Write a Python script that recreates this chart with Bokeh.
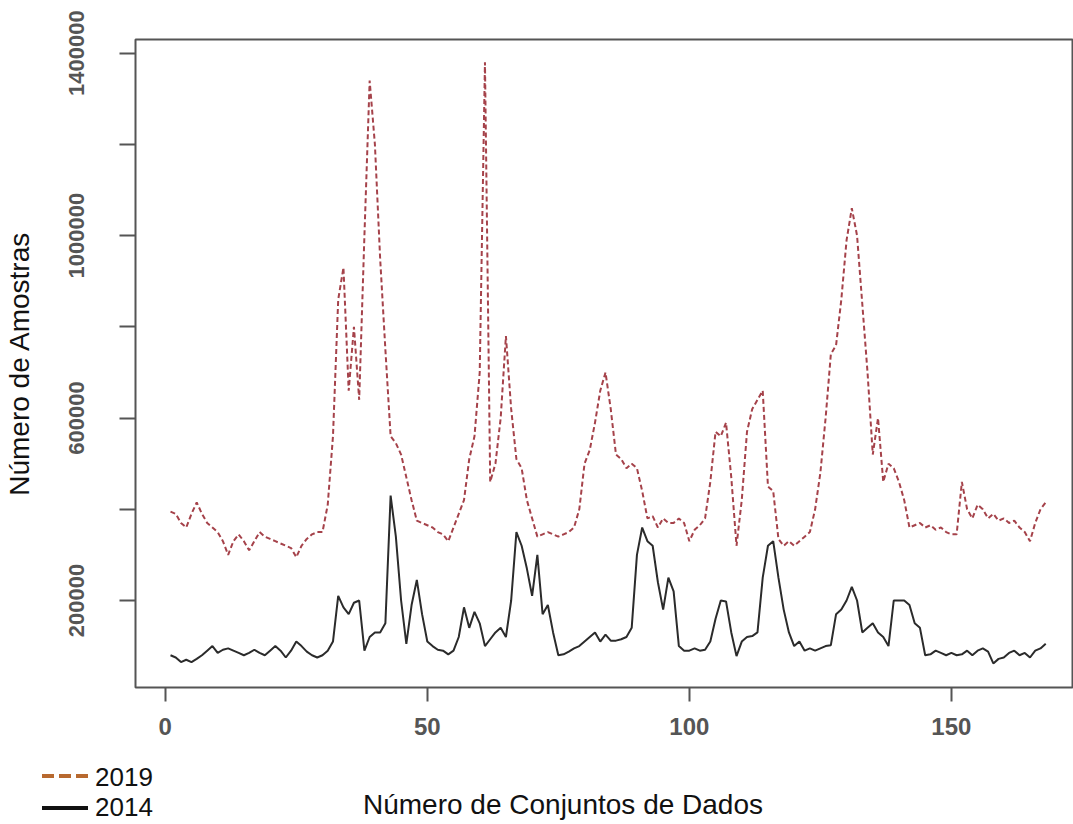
from bokeh.plotting import figure
from bokeh.models import FixedTicker, ColumnDataSource, Div
from bokeh.layouts import column
from bokeh.embed import file_html
from bokeh.resources import INLINE

idx = list(range(1, 169))

v2019 = [395000, 390000, 370000, 360000, 390000, 415000, 390000, 370000, 360000, 350000,
         330000, 300000, 330000, 345000, 330000, 310000, 330000, 350000, 340000, 335000,
         330000, 325000, 320000, 315000, 295000, 320000, 335000, 345000, 350000, 350000,
         410000, 560000, 860000, 930000, 660000, 800000, 640000, 1000000, 1340000, 1200000,
         950000, 750000, 560000, 545000, 520000, 470000, 420000, 375000, 370000, 365000,
         360000, 350000, 345000, 330000, 360000, 390000, 420000, 510000, 560000, 700000,
         1380000, 460000, 500000, 600000, 780000, 620000, 510000, 490000, 420000, 380000,
         340000, 345000, 350000, 345000, 340000, 345000, 350000, 360000, 400000, 500000,
         530000, 590000, 660000, 700000, 620000, 520000, 510000, 490000, 500000, 490000,
         440000, 380000, 385000, 360000, 380000, 370000, 370000, 380000, 370000, 330000,
         355000, 365000, 380000, 460000, 570000, 560000, 590000, 470000, 320000, 420000,
         570000, 620000, 640000, 660000, 450000, 440000, 335000, 320000, 330000, 320000,
         330000, 340000, 350000, 400000, 480000, 600000, 740000, 760000, 860000, 990000,
         1060000, 1000000, 850000, 700000, 520000, 600000, 460000, 500000, 490000, 460000,
         420000, 360000, 365000, 370000, 360000, 365000, 355000, 360000, 350000, 345000,
         345000, 460000, 400000, 380000, 410000, 400000, 380000, 390000, 375000, 380000,
         370000, 375000, 360000, 350000, 330000, 370000, 400000, 415000]

v2014 = [80000, 75000, 65000, 70000, 65000, 72000, 80000, 90000, 100000, 85000,
         92000, 95000, 90000, 85000, 80000, 85000, 92000, 85000, 80000, 90000,
         100000, 90000, 75000, 90000, 110000, 100000, 88000, 80000, 75000, 80000,
         90000, 110000, 210000, 185000, 170000, 195000, 200000, 90000, 120000, 130000,
         130000, 150000, 430000, 340000, 200000, 105000, 190000, 245000, 170000, 110000,
         100000, 92000, 90000, 82000, 90000, 120000, 185000, 140000, 175000, 150000,
         100000, 115000, 130000, 140000, 120000, 200000, 350000, 320000, 270000, 210000,
         300000, 170000, 190000, 130000, 80000, 82000, 88000, 95000, 100000, 110000,
         120000, 130000, 110000, 125000, 112000, 112000, 115000, 120000, 140000, 300000,
         360000, 330000, 320000, 240000, 180000, 250000, 220000, 100000, 90000, 90000,
         95000, 90000, 92000, 110000, 160000, 200000, 198000, 130000, 78000, 110000,
         120000, 122000, 130000, 250000, 320000, 330000, 250000, 180000, 130000, 100000,
         110000, 90000, 95000, 90000, 95000, 100000, 102000, 170000, 180000, 200000,
         230000, 200000, 130000, 140000, 150000, 130000, 120000, 100000, 200000, 200000,
         200000, 190000, 150000, 140000, 80000, 82000, 90000, 85000, 80000, 85000,
         80000, 82000, 90000, 80000, 90000, 95000, 88000, 62000, 72000, 75000,
         85000, 90000, 80000, 85000, 75000, 90000, 95000, 105000]

x_ticks = [0, 50, 100, 150]
y_ticks = [200000, 400000, 600000, 800000, 1000000, 1200000, 1400000]
y_tick_labels = {200000: "200000", 400000: "", 600000: "600000", 800000: "",
                 1000000: "1000000", 1200000: "", 1400000: "1400000"}
legend_labels = ["2019", "2014"]
x_title = "Número de Conjuntos de Dados"
y_title = "Número de Amostras"

FONT = "Liberation Sans"
AX = "#555555"
C2019 = "#a5424a"
C2014 = "#2b2b2b"
LEG2019 = "#b8692f"
LEG2014 = "#111111"
W = 1073
H_MAIN = 750
H_FOOT = 824 - H_MAIN

p = figure(width=W, height=H_MAIN, output_backend="svg", toolbar_location=None,
           x_range=(-5.68, 173.3), y_range=(9240, 1430000),
           min_border_left=133, min_border_right=0, min_border_top=39, min_border_bottom=63)
p.background_fill_color = "white"
p.border_fill_color = "white"
p.grid.visible = False
p.outline_line_color = AX
p.outline_line_width = 2

src = ColumnDataSource(dict(x=idx, a=v2019, b=v2014))
p.line("x", "a", source=src, line_color=C2019, line_width=2, line_dash="5 3")
p.line("x", "b", source=src, line_color=C2014, line_width=2)

for ax in (p.xaxis[0], p.yaxis[0]):
    ax.axis_line_color = None
    ax.major_tick_line_color = AX
    ax.major_tick_line_width = 2
    ax.minor_tick_line_color = None
    ax.major_tick_in = 0
    ax.major_label_text_font = FONT
    ax.major_label_text_color = "#555555"
    ax.major_label_text_font_style = "bold"

p.xaxis.ticker = FixedTicker(ticks=x_ticks)
p.xaxis.major_tick_out = 14
p.xaxis.major_label_standoff = 16
p.xaxis.major_label_text_font_size = "24px"

p.yaxis.ticker = FixedTicker(ticks=y_ticks)
p.yaxis.major_label_overrides = y_tick_labels
p.yaxis.major_label_orientation = "vertical"
p.yaxis.major_tick_out = 16
p.yaxis.major_label_standoff = 35
p.yaxis.major_label_text_font_size = "22px"
p.yaxis.axis_label = y_title
p.yaxis.axis_label_text_font = FONT
p.yaxis.axis_label_text_font_style = "normal"
p.yaxis.axis_label_text_font_size = "28px"
p.yaxis.axis_label_text_color = "#111111"
p.yaxis.axis_label_standoff = 32

# footer: legend and x-axis title below the plot
txt = f"position:absolute;font-family:{FONT},Arial,sans-serif;color:#111111;line-height:1;white-space:nowrap;margin:0;"
footer_html = (
    f'<div style="position:relative;width:{W}px;height:{H_FOOT}px;background:white;overflow:hidden;">'
    f'<div style="position:absolute;left:42px;top:24px;width:46px;height:4px;'
    f'background:repeating-linear-gradient(to right,{LEG2019} 0px,{LEG2019} 12px,transparent 12px,transparent 17px);"></div>'
    f'<div style="{txt}left:95px;top:14px;font-size:26px;">{legend_labels[0]}</div>'
    f'<div style="position:absolute;left:42px;top:56px;width:46px;height:4px;background:{LEG2014};"></div>'
    f'<div style="{txt}left:95px;top:44px;font-size:26px;">{legend_labels[1]}</div>'
    f'<div style="{txt}left:263px;width:600px;text-align:center;top:41px;font-size:28px;">{x_title}</div>'
    f'</div>'
)
footer = Div(text=footer_html, width=W, height=H_FOOT, margin=(0, 0, 0, 0))

layout = column(p, footer, spacing=0)
open("out.html", "w").write(file_html(layout, INLINE))
